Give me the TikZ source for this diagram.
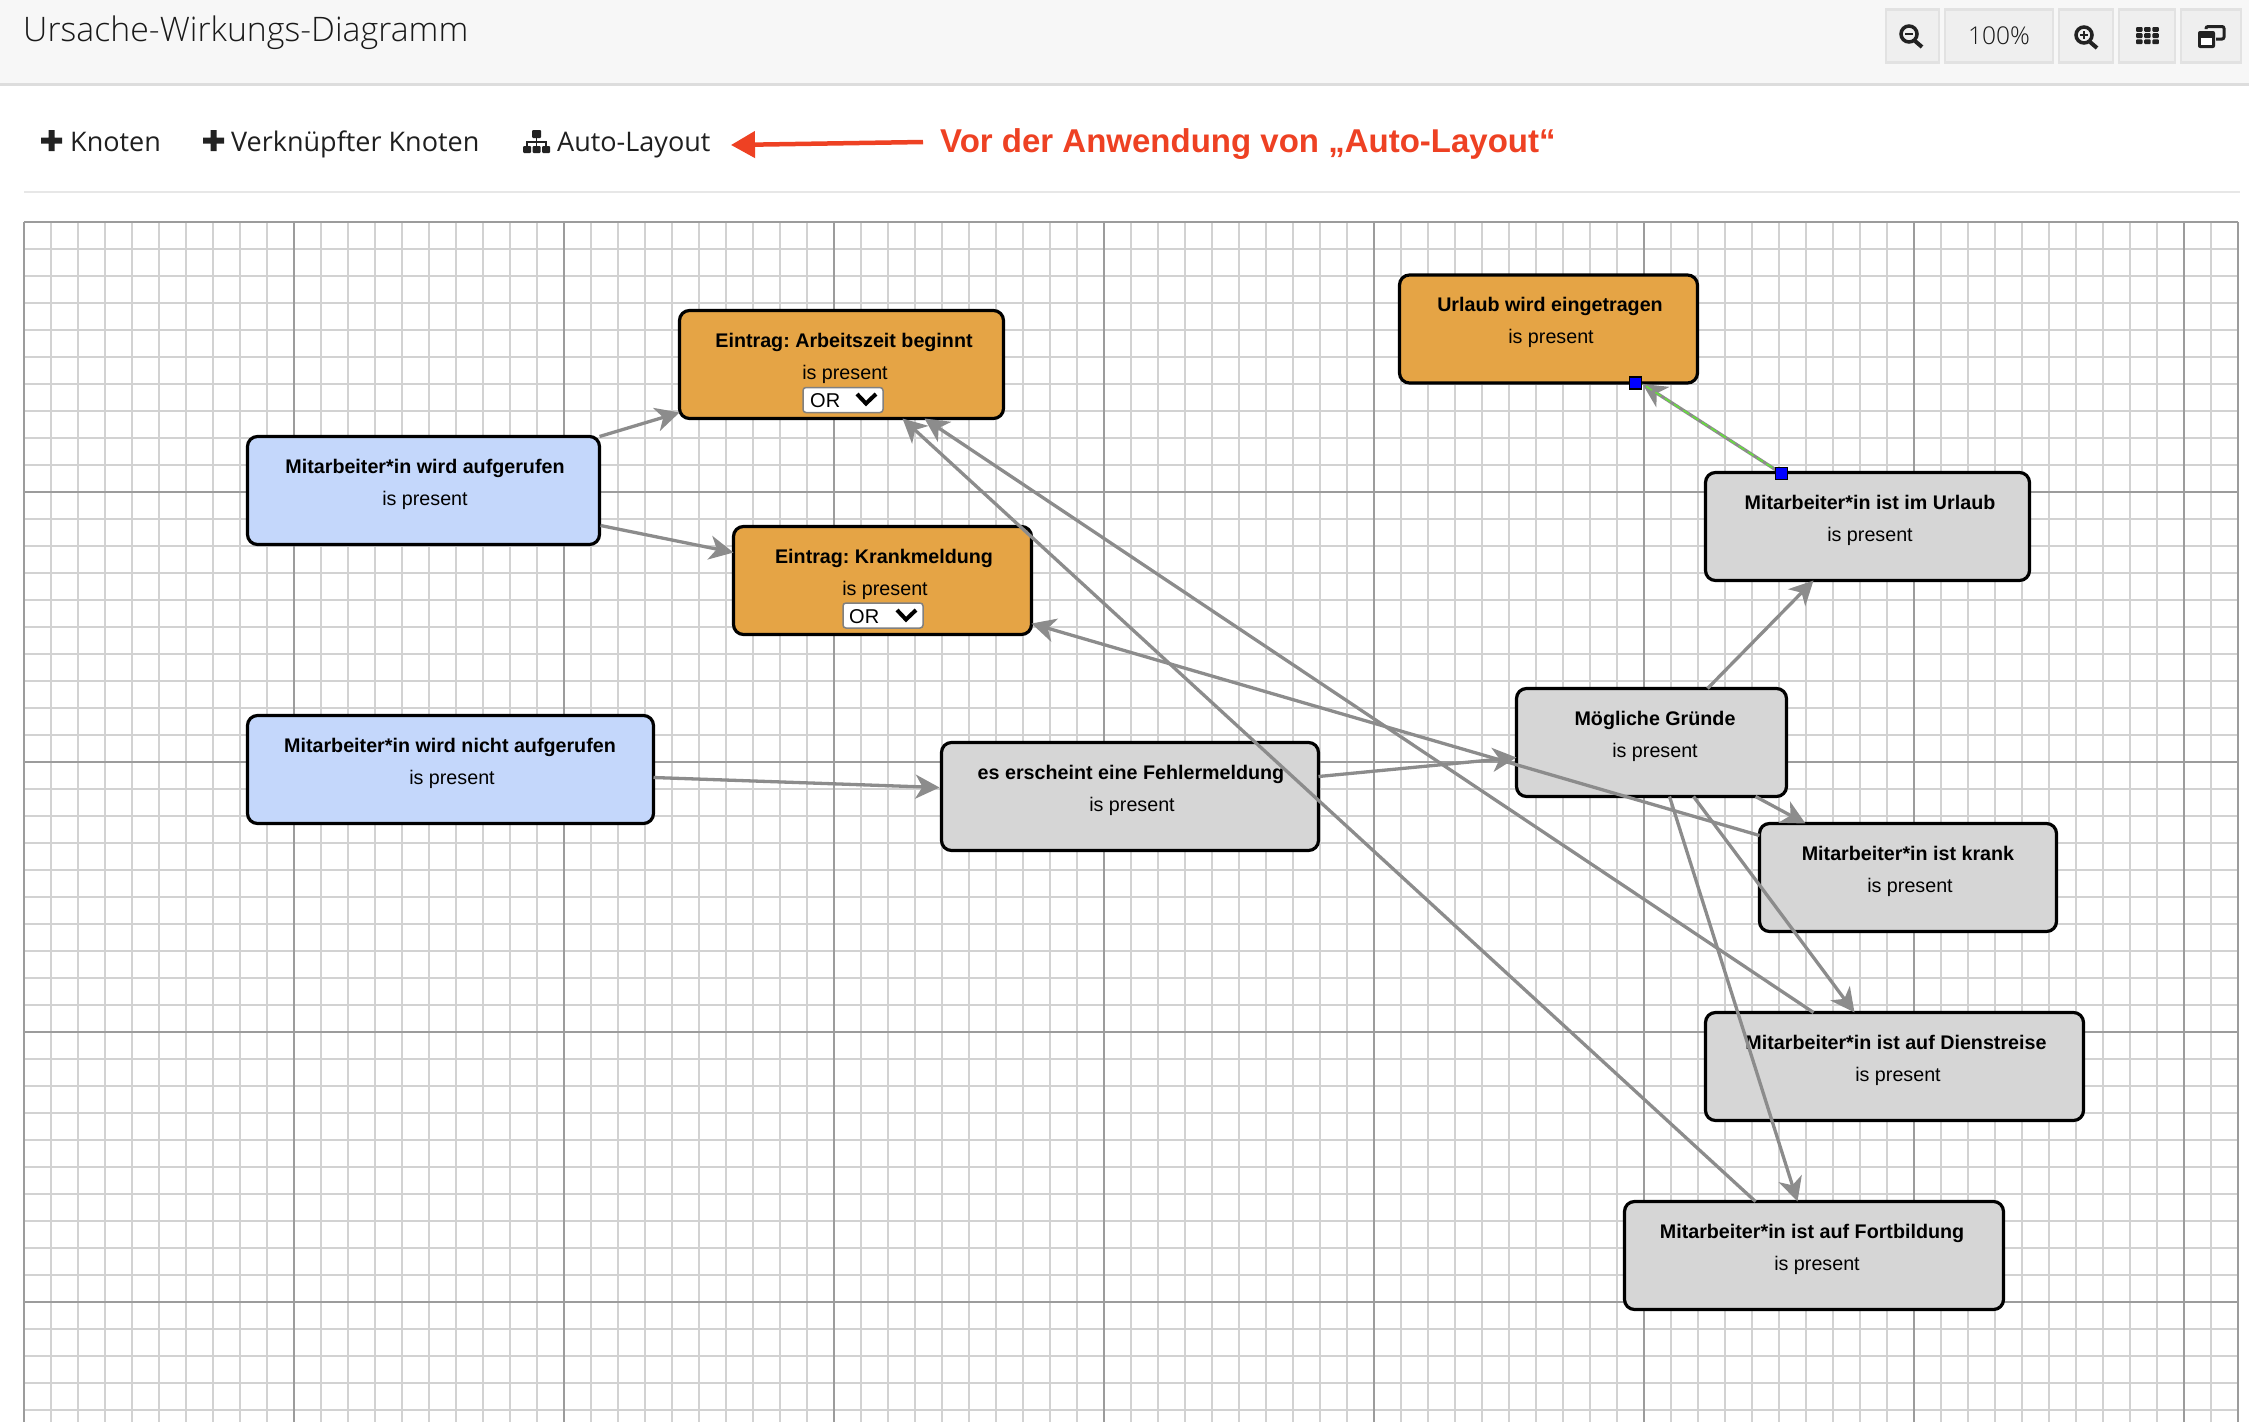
\documentclass[tikz,border=0pt]{standalone}
\usepackage{fontspec}
\setmainfont{Liberation Sans}
\newfontfamily\oslight{Open Sans Light}
\newfontfamily\osreg{Open Sans}
\usetikzlibrary{calc,arrows.meta}
\frenchspacing
\definecolor{minorc}{HTML}{D2D2D2}
\definecolor{majorc}{HTML}{9C9C9C}
\definecolor{headc}{HTML}{F7F7F7}
\definecolor{headl}{HTML}{DDDDDD}
\definecolor{btnf}{HTML}{EFEFEF}
\definecolor{btnl}{HTML}{E2E2E2}
\definecolor{orangec}{HTML}{E5A445}
\definecolor{bluec}{HTML}{C4D7FB}
\definecolor{greyc}{HTML}{D6D6D6}
\definecolor{linkc}{HTML}{8C8C8C}
\definecolor{redc}{HTML}{EE4123}
\definecolor{iconc}{HTML}{222222}
\definecolor{selc}{HTML}{66E03C}
\tikzset{
  box/.style={draw=black,line width=3.2pt,rounded corners=10pt,minimum height=108pt,outer sep=0pt,inner sep=0pt},
  ora/.style={box,fill=orangec},
  blu/.style={box,fill=bluec},
  gry/.style={box,fill=greyc},
  ttl/.style={anchor=base,inner sep=0pt,font=\fontsize{19.7pt}{22pt}\selectfont\bfseries},
  sub/.style={anchor=base,inner sep=0pt,font=\fontsize{19.7pt}{22pt}\selectfont},
  link/.style={draw=linkc,line width=3.3pt,-{Stealth[length=24pt,width=24pt,inset=7pt]}},
  sel/.style={draw=gray,fill=white,line width=1.5pt,rounded corners=3pt,minimum width=80pt,minimum height=25pt,inner sep=0pt,outer sep=0pt},
  ortxt/.style={anchor=base west,inner sep=0pt,font=\fontsize{20pt}{22pt}\selectfont},
  chev/.style={draw=black,line width=4pt},
  btn/.style={draw=btnl,fill=btnf,line width=2.5pt,inner sep=0pt,minimum height=53pt},
  tool/.style={anchor=base west,inner sep=0pt,text=black!88,font=\fontsize{27pt}{32pt}\osreg},
  handle/.style={fill=blue,draw=black,line width=1.5pt,minimum size=12pt,inner sep=0pt},
  ico/.style={draw=iconc,line width=3.5pt},
  minorl/.style={draw=minorc,line width=1.5pt},
  majorl/.style={draw=majorc,line width=1.8pt}
}
\begin{document}
\begin{tikzpicture}[x=1pt,y=-1pt]
\useasboundingbox (0,0) rectangle (2249,1422);
% header
\fill[headc] (0,0) rectangle (2249,84);
\draw[headl,line width=3pt] (0,84) -- (2249,84);
\node[anchor=base west,inner sep=0pt,text=black!90,font=\fontsize{33.8pt}{38pt}\oslight] (title) at (23,41) {Ursache-Wirkungs-Diagramm};
% top-right buttons
\node[btn,minimum width=53pt] (bminus) at (1912.5,36) {};
\node[btn,minimum width=108pt,text=black!90,font=\fontsize{24.5pt}{28pt}\oslight] (bpct) at (1999,36) {100\%};
\node[btn,minimum width=54pt] (bplus) at (2086,36) {};
\node[btn,minimum width=56pt] (bgrid) at (2147,36) {};
\node[btn,minimum width=60pt] (bwin) at (2211,36) {};
\draw[ico] (1909,34) circle (8pt);
\draw[ico,line width=4pt] (1915,41) -- (1922,47);
\draw[iconc,line width=2.5pt] (1905,34) -- (1913,34);
\draw[ico] (2084,35) circle (8pt);
\draw[ico,line width=4pt] (2090,42) -- (2097,48);
\draw[iconc,line width=2pt] (2080,35) -- (2088,35) (2084,31) -- (2084,39);
\foreach \i in {0,1,2}{\foreach \j in {0,1,2}{
  \fill[iconc,rounded corners=1pt] ({2136+8.2*\i},{27+6.2*\j}) rectangle ++(6.5,4.8);}}
\draw[iconc,line width=3pt,rounded corners=2pt] (2206,29) -- (2206,26.5) -- (2224,26.5) -- (2224,39) -- (2216,39);
\fill[iconc,rounded corners=2pt] (2198,31) rectangle (2215,48);
\fill[white] (2201,38) rectangle (2212,45);
% toolbar
\fill[iconc] (48.5,130) rectangle (54.5,151) (41,137.5) rectangle (62,143.5);
\node[tool] (t1) at (70,151) {Knoten};
\fill[iconc] (210.5,130) rectangle (216.5,151) (203,137.5) rectangle (224,143.5);
\node[tool] (t2) at (231,151) {Verknüpfter Knoten};
\fill[iconc,rounded corners=1pt] (532,130) rectangle (541,138) (523,146) rectangle (531,153) (532.5,146) rectangle (540.5,153) (542,146) rectangle (550,153);
\draw[iconc,line width=1.5pt] (536.5,138) -- (536.5,146) (527,146) -- (527,142) -- (546,142) -- (546,146);
\node[tool] (t3) at (557,151) {Auto-Layout};
\draw[headl!70,line width=2.5pt] (24,192) -- (2240,192);
\coordinate (ra) at (923,142);
\coordinate (rb) at (731,145);
\draw[redc,line width=4.5pt,-{Stealth[length=24pt,width=26pt,inset=0pt]}] (ra) -- (rb);
\node[anchor=base west,inner sep=0pt,text=redc,font=\fontsize{33pt}{38pt}\selectfont\bfseries] (note) at (940,152) {Vor der Anwendung von „Auto-Layout“};
% grid
\foreach \k in {1,...,82}{\draw[minorl] ({24+27*\k},222) -- ({24+27*\k},1422);}
\foreach \k in {1,...,44}{\draw[minorl] (24,{222+27*\k}) -- (2238,{222+27*\k});}
\foreach \k in {0,...,8}{\draw[majorl] ({24+270*\k},222) -- ({24+270*\k},1422);}
\foreach \k in {0,...,4}{\draw[majorl] (24,{222+270*\k}) -- (2238,{222+270*\k});}
\draw[majorl] (2238,222) -- (2238,1422);
% nodes
\node[ora,minimum width=324pt] (arb) at (841.5,364.5) {};
\node[ttl] (arbt) at (844,347) {Eintrag: Arbeitszeit beginnt};
\node[sub] (arbs) at (845,379) {is present};
\node[sel] (arbo) at (843,400) {};
\node[ortxt] (arbr) at (810,407) {OR};
\draw[chev] (857,394) -- (866,403.5) -- (876,394);
\node[ora,minimum width=298pt] (krm) at (882.5,580.5) {};
\node[ttl] (krmt) at (884,563) {Eintrag: Krankmeldung};
\node[sub] (krms) at (885,595) {is present};
\node[sel] (krmo) at (883,615.5) {};
\node[ortxt] (krmr) at (849,623) {OR};
\draw[chev] (897,610) -- (906,619.5) -- (916,610);
\node[ora,minimum width=298pt] (url) at (1548.5,329) {};
\node[ttl] (urlt) at (1550,311.5) {Urlaub wird eingetragen};
\node[sub] (urls) at (1551,343) {is present};
\node[gry,minimum width=324pt] (imu) at (1867.5,526.5) {};
\node[ttl] (imut) at (1870,509.5) {Mitarbeiter*in ist im Urlaub};
\node[sub] (imus) at (1870,541) {is present};
\node[gry,minimum width=270pt] (mog) at (1651.5,742.5) {};
\node[ttl] (mogt) at (1655,725.5) {Mögliche Gründe};
\node[sub] (mogs) at (1655,757) {is present};
\node[gry,minimum width=297pt] (krk) at (1908,877.5) {};
\node[ttl] (krkt) at (1908,860.5) {Mitarbeiter*in ist krank};
\node[sub] (krks) at (1910,892) {is present};
\node[gry,minimum width=378pt] (die) at (1894.5,1066.5) {};
\node[ttl] (diet) at (1896,1049.5) {Mitarbeiter*in ist auf Dienstreise};
\node[sub] (dies) at (1898,1081) {is present};
\node[gry,minimum width=379pt] (frt) at (1814,1255.5) {};
\node[ttl] (frtt) at (1812,1238.5) {Mitarbeiter*in ist auf Fortbildung};
\node[sub] (frts) at (1817,1270) {is present};
\node[blu,minimum width=352pt] (auf) at (423.5,490.5) {};
\node[ttl] (auft) at (425,473.5) {Mitarbeiter*in wird aufgerufen};
\node[sub] (aufs) at (425,505) {is present};
\node[blu,minimum width=406pt] (nau) at (450.5,769.5) {};
\node[ttl] (naut) at (450,752.5) {Mitarbeiter*in wird nicht aufgerufen};
\node[sub] (naus) at (452,784) {is present};
\node[gry,minimum width=377pt] (feh) at (1130,796.5) {};
\node[ttl] (feht) at (1131,779.5) {es erscheint eine Fehlermeldung};
\node[sub] (fehs) at (1132,811) {is present};
% connectors
\draw[link] (auf.north east) -- ($(arb.south west)+(0,-6)$);
\draw[link] ($(auf.north east)+(1,89)$) -- ($(krm.north west)+(0,26)$);
\draw[link] ($(nau.north east)+(0,62)$) -- ($(feh.north west)+(-2,45)$);
\draw[link] ($(feh.north east)+(0,34)$) -- ($(mog.north west)+(0,69)$);
\draw[link] ($(mog.north west)+(191,0)$) -- ($(imu.south west)+(108,0)$);
\draw[link] ($(imu.north west)+(76,1)$) -- ($(url.south west)+(243,1)$);
\draw[selc,line width=1.5pt,dash pattern=on 7pt off 4pt] ($(imu.north west)+(76,1)$) -- ($(url.south west)+(243,1)$);
\draw[link] ($(krk.north west)+(0,12)$) -- ($(krm.south east)+(0,-11)$);
\draw[link] ($(mog.south west)+(239,0)$) -- ($(krk.north west)+(46,0)$);
\draw[link] ($(mog.south west)+(177,0)$) -- ($(die.north west)+(149,0)$);
\draw[link] ($(mog.south west)+(153,0)$) -- ($(frt.north west)+(173,0)$);
\draw[link] ($(die.north west)+(108,0)$) -- ($(arb.south west)+(245,0)$);
\draw[link] ($(frt.north west)+(131,0)$) -- ($(arb.south west)+(223,0)$);
% handles
\node[handle] (h1) at ($(url.south west)+(236,0)$) {};
\node[handle] (h2) at ($(imu.north west)+(76,1)$) {};
\end{tikzpicture}
\end{document}
